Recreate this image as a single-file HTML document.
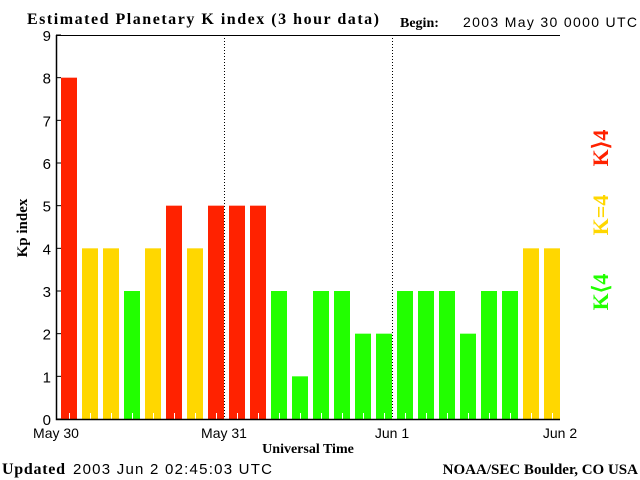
<!DOCTYPE html>
<html><head><meta charset="utf-8"><style>
body{margin:0;background:#fff;}
svg{display:block;}
</style></head><body>
<svg width="640" height="480" xmlns="http://www.w3.org/2000/svg">
<rect width="640" height="480" fill="#fff"/>
<text x="27" y="24" font-family="Liberation Serif, serif" font-weight="bold" font-size="16" textLength="352">Estimated Planetary K index (3 hour data)</text>
<text x="400" y="27" font-family="Liberation Serif, serif" font-weight="bold" font-size="14">Begin:</text>
<text x="463" y="27" font-family="Liberation Sans, sans-serif" font-size="14" textLength="174">2003 May 30 0000 UTC</text>
<g id="plot"></g>
<text x="27" y="228" transform="rotate(-90 27 228)" text-anchor="middle" font-family="Liberation Serif, serif" font-weight="bold" font-size="15">Kp index</text>
<text x="308" y="453" text-anchor="middle" font-family="Liberation Serif, serif" font-weight="bold" font-size="14">Universal Time</text>
<text x="2" y="474" font-family="Liberation Serif, serif" font-weight="bold" font-size="16" textLength="63">Updated</text>
<text x="73" y="474" font-family="Liberation Sans, sans-serif" font-size="15" textLength="199">2003 Jun  2 02:45:03 UTC</text>
<text x="638" y="474" text-anchor="end" font-family="Liberation Serif, serif" font-weight="bold" font-size="15">NOAA/SEC Boulder, CO USA</text>
<text x="608" y="148" transform="rotate(-90 608 148)" text-anchor="middle" fill="#ff2200" font-family="Liberation Serif, serif" font-weight="bold" font-size="22">K⟩4</text>
<text x="608" y="215" transform="rotate(-90 608 215)" text-anchor="middle" fill="#ffd700" font-family="Liberation Serif, serif" font-weight="bold" font-size="22">K=4</text>
<text x="608" y="292" transform="rotate(-90 608 292)" text-anchor="middle" fill="#22ff00" font-family="Liberation Serif, serif" font-weight="bold" font-size="22">K⟨4</text>
</svg>
<script>
const kpValues = [8,4,4,3,4,5,4,5,5,5,3,1,3,3,2,2,3,3,3,2,3,3,4,4];
const yTicks = [0,1,2,3,4,5,6,7,8,9];
const dayLabels = ["May 30","May 31","Jun 1","Jun 2"];
const NS="http://www.w3.org/2000/svg";
const g=document.getElementById('plot');
const L=56,R=560,T=35,B=419;
const xs=i=>L+(R-L)*i/kpValues.length;
const ys=v=>B-(B-T)*v/9;
function mk(t,a){const e=document.createElementNS(NS,t);for(const k in a)e.setAttribute(k,a[k]);g.appendChild(e);return e;}
const bw=(R-L)/kpValues.length;
kpValues.forEach((v,i)=>{
  const c=v>4?'#ff2200':(v==4?'#ffd700':'#22ff00');
  const r=mk('rect',{x:xs(i)+5,y:ys(v),width:16,height:B-ys(v),fill:c});
  
  
  const cx=xs(i)+13.5;
  const t=mk('line',{x1:cx,x2:cx,y1:B,y2:B-6,stroke:'#fff','stroke-width':1});
  
  
});
[1,2].forEach(d=>{
  const x=L+(R-L)*d/3;
  const l=mk('line',{x1:x+0.5,x2:x+0.5,y1:T,y2:B,stroke:'#000','stroke-dasharray':'1,2'});
  
  
});
const ax=mk('path',{d:`M${L+0.5},${T} V${B+0.5} H${R}`,fill:'none',stroke:'#000','stroke-width':1.5});


const tp=mk('line',{x1:L,x2:R,y1:T+0.5,y2:T+0.5,stroke:'#000'});


yTicks.forEach(v=>{
  const t=mk('text',{x:L-5,y:ys(v)+6,'text-anchor':'end','font-family':'Liberation Sans, sans-serif','font-size':15});
  t.textContent=v;
  
  
  const k=mk('line',{x1:L,x2:L+5,y1:ys(v),y2:ys(v),stroke:'#000'});
  
  
});
dayLabels.forEach((s,d)=>{
  const t=mk('text',{x:L+(R-L)*d/3,y:438,'text-anchor':'middle','font-family':'Liberation Sans, sans-serif','font-size':14});
  t.textContent=s;
  
  
});
</script>
</body></html>
